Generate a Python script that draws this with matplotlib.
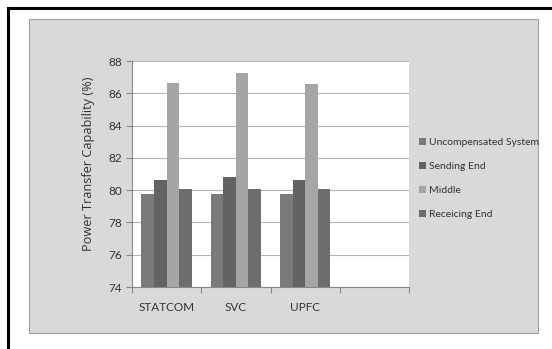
import numpy as np
import matplotlib.pyplot as plt
from matplotlib.patches import Rectangle
from matplotlib.lines import Line2D

categories = ["STATCOM", "SVC", "UPFC", ""]
series = ["Uncompensated System", "Sending End", "Middle", "Receicing End"]
uncompensated = [79.75, 79.75, 79.75]
sending_end = [80.65, 80.82, 80.65]
middle = [86.65, 87.25, 86.6]
receiving_end = [80.04, 80.04, 80.04]
values = [uncompensated, sending_end, middle, receiving_end]
colors = ["#7a7a7a", "#636363", "#a5a5a5", "#6d6d6d"]

narrow = ["Lato", "DejaVu Sans"]
txt = "#333333"

fig = plt.figure(figsize=(5.52, 3.49), dpi=100)
W, H = 552, 349

# outer black frame (left and top) and grey chart area
fig.add_artist(Line2D([8 / W, 8 / W], [0, 1 - 8 / H], color="black", lw=2.2))
fig.add_artist(Line2D([8 / W, 1], [1 - 8 / H, 1 - 8 / H], color="black", lw=2.2))
fig.add_artist(Rectangle((29 / W, 1 - 333 / H), 509 / W, 314 / H,
                         facecolor="#d9d9d9", edgecolor="#a0a0a0", lw=0.8, zorder=-5))

ax = fig.add_axes([132 / W, 1 - 287 / H, 277 / W, 226 / H])
ax.set_facecolor("white")

x = np.arange(3)
w = 1 / 5.5
for i, (vals, col, lab) in enumerate(zip(values, colors, series)):
    ax.bar(x + (i - 1.5) * w, np.array(vals) - 74, bottom=74, width=w,
           color=col, label=lab, zorder=3)

ax.set_xlim(-0.5, 3.5)
ax.set_ylim(74, 88)
ax.set_yticks(range(74, 89, 2))
ax.yaxis.grid(True, color="#b5b5b5", lw=0.8, zorder=0)

ax.set_xticks(np.arange(-0.5, 4, 1))
ax.set_xticklabels([])
ax.set_xticks(np.arange(4), minor=True)
ax.set_xticklabels(categories, minor=True, family=narrow, fontsize=8.5, color=txt)
ax.tick_params(axis="x", which="minor", length=0, pad=11)
ax.tick_params(axis="x", which="major", length=4, color="#888888")
ax.tick_params(axis="y", length=4, color="#888888", pad=3)
for lbl in ax.get_yticklabels():
    lbl.set_family(narrow)
    lbl.set_fontsize(8.5)
    lbl.set_color(txt)

for s in ["top", "right"]:
    ax.spines[s].set_visible(False)
for s in ["left", "bottom"]:
    ax.spines[s].set_color("#888888")
    ax.spines[s].set_linewidth(0.8)

ax.set_ylabel("Power Transfer Capability (%)", fontsize=9.2, family=["Open Sans", "DejaVu Sans"],
              color=txt)
ax.yaxis.set_label_coords(-0.135, 0.545)

leg = ax.legend(loc="center left", bbox_to_anchor=(414 / W, 1 - 178.5 / H),
                bbox_transform=fig.transFigure, frameon=False, borderpad=0,
                handlelength=0.65, handleheight=0.65, handletextpad=0.3,
                labelspacing=1.45, prop={"family": narrow, "size": 7.5})
for t in leg.get_texts():
    t.set_color(txt)

fig.savefig("out.png", dpi=100)
